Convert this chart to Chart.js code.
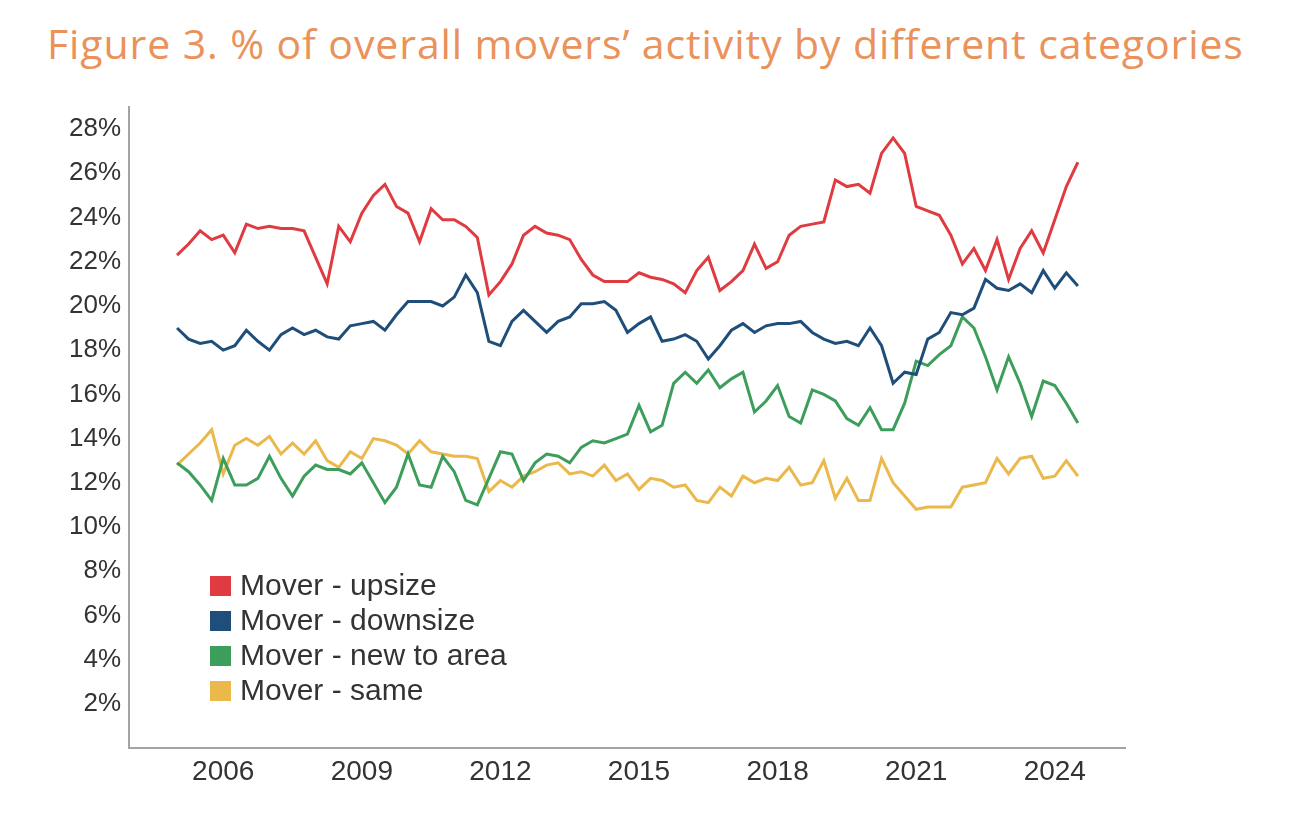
<!DOCTYPE html>
<html>
<head>
<meta charset="utf-8">
<script src="https://cdn.jsdelivr.net/npm/chart.js@4.4.1/dist/chart.umd.min.js"></script>
<style>
  html, body { margin: 0; padding: 0; background: #fff; }
  #wrap { position: relative; width: 1302px; height: 836px; }
  #title {
    position: absolute; left: 47px; top: 19px;
    font-family: "Open Sans", "Noto Sans", sans-serif;
    font-size: 41px; letter-spacing: 0.9px; color: #ea925a; white-space: nowrap;
    line-height: 1.2;
  }
  canvas { position: absolute; left: 0; top: 0; }
</style>
</head>
<body>
<div id="wrap">
  <div id="title">Figure 3. % of overall movers’ activity by different categories</div>
  <canvas id="myChart" width="1302" height="836"></canvas>
</div>
<script>
// quarterly, 2005 Q1 .. 2024 Q3
const START_YEAR = 2005;
const seriesNames = ['Mover - upsize', 'Mover - downsize', 'Mover - new to area', 'Mover - same'];
const seriesColors = ['#df3b41', '#1f4e7a', '#3d9e5b', '#ebb84b'];

const upsize = [22.3, 22.8, 23.4, 23.0, 23.2, 22.4, 23.7, 23.5, 23.6, 23.5,
  23.5, 23.4, 22.2, 21.0, 23.6, 22.9, 24.2, 25.0, 25.5, 24.5,
  24.2, 22.9, 24.4, 23.9, 23.9, 23.6, 23.1, 20.5, 21.1, 21.9,
  23.2, 23.6, 23.3, 23.2, 23.0, 22.1, 21.4, 21.1, 21.1, 21.1,
  21.5, 21.3, 21.2, 21.0, 20.6, 21.6, 22.2, 20.7, 21.1, 21.6,
  22.8, 21.7, 22.0, 23.2, 23.6, 23.7, 23.8, 25.7, 25.4, 25.5,
  25.1, 26.9, 27.6, 26.9, 24.5, 24.3, 24.1, 23.2, 21.9, 22.6,
  21.6, 23.0, 21.2, 22.6, 23.4, 22.4, 23.9, 25.4, 26.5];

const downsize = [19.0, 18.5, 18.3, 18.4, 18.0, 18.2, 18.9, 18.4, 18.0, 18.7,
  19.0, 18.7, 18.9, 18.6, 18.5, 19.1, 19.2, 19.3, 18.9, 19.6,
  20.2, 20.2, 20.2, 20.0, 20.4, 21.4, 20.6, 18.4, 18.2, 19.3,
  19.8, 19.3, 18.8, 19.3, 19.5, 20.1, 20.1, 20.2, 19.8, 18.8,
  19.2, 19.5, 18.4, 18.5, 18.7, 18.4, 17.6, 18.2, 18.9, 19.2,
  18.8, 19.1, 19.2, 19.2, 19.3, 18.8, 18.5, 18.3, 18.4, 18.2,
  19.0, 18.2, 16.5, 17.0, 16.9, 18.5, 18.8, 19.7, 19.6, 19.9,
  21.2, 20.8, 20.7, 21.0, 20.6, 21.6, 20.8, 21.5, 20.9];

const newToArea = [12.9, 12.5, 11.9, 11.2, 13.1, 11.9, 11.9, 12.2, 13.2, 12.2,
  11.4, 12.3, 12.8, 12.6, 12.6, 12.4, 12.9, 12.0, 11.1, 11.8,
  13.3, 11.9, 11.8, 13.2, 12.5, 11.2, 11.0, 12.2, 13.4, 13.3,
  12.1, 12.9, 13.3, 13.2, 12.9, 13.6, 13.9, 13.8, 14.0, 14.2,
  15.5, 14.3, 14.6, 16.5, 17.0, 16.5, 17.1, 16.3, 16.7, 17.0,
  15.2, 15.7, 16.4, 15.0, 14.7, 16.2, 16.0, 15.7, 14.9, 14.6,
  15.4, 14.4, 14.4, 15.6, 17.5, 17.3, 17.8, 18.2, 19.5, 19.0,
  17.7, 16.2, 17.7, 16.5, 15.0, 16.6, 16.4, 15.6, 14.7];

const same = [12.8, 13.3, 13.8, 14.4, 12.4, 13.7, 14.0, 13.7, 14.1, 13.3,
  13.8, 13.3, 13.9, 13.0, 12.7, 13.4, 13.1, 14.0, 13.9, 13.7,
  13.3, 13.9, 13.4, 13.3, 13.2, 13.2, 13.1, 11.6, 12.1, 11.8,
  12.3, 12.5, 12.8, 12.9, 12.4, 12.5, 12.3, 12.8, 12.1, 12.4,
  11.7, 12.2, 12.1, 11.8, 11.9, 11.2, 11.1, 11.8, 11.4, 12.3,
  12.0, 12.2, 12.1, 12.7, 11.9, 12.0, 13.0, 11.3, 12.2, 11.2,
  11.2, 13.1, 12.0, 11.4, 10.8, 10.9, 10.9, 10.9, 11.8, 11.9,
  12.0, 13.1, 12.4, 13.1, 13.2, 12.2, 12.3, 13.0, 12.3];

const xTicks = [2006, 2009, 2012, 2015, 2018, 2021, 2024];
const yTicks = [2, 4, 6, 8, 10, 12, 14, 16, 18, 20, 22, 24, 26, 28];

const allSeries = [upsize, downsize, newToArea, same];
const FONT = '"Liberation Sans", Arial, sans-serif';

// legend drawn inside the plot, lower left
const insideLegend = {
  id: 'insideLegend',
  afterDraw(chart) {
    const ctx = chart.ctx;
    const area = chart.chartArea;
    ctx.save();
    ctx.font = '30px ' + FONT;
    ctx.textBaseline = 'middle';
    ctx.textAlign = 'left';
    chart.data.datasets.forEach((ds, i) => {
      const y = area.top + 479 + i * 35;
      ctx.fillStyle = ds.borderColor;
      ctx.fillRect(area.left + 81, y - 10, 21, 20);
      ctx.fillStyle = '#333333';
      ctx.fillText(ds.label, area.left + 111, y + 1);
    });
    ctx.restore();
  }
};

const CHART = document.getElementById('myChart');
const myChart = new Chart(CHART, {
  type: 'line',
  data: {
    datasets: allSeries.map((vals, k) => ({
      label: seriesNames[k],
      data: vals.map((v, i) => ({ x: START_YEAR + i / 4, y: v })),
      borderColor: seriesColors[k],
      backgroundColor: seriesColors[k],
      borderWidth: 3,
      pointRadius: 0,
      tension: 0,
      fill: false
    }))
  },
  options: {
    responsive: false,
    animation: false,
    layout: { padding: { left: 0, top: 107, right: 177, bottom: 0 } },
    plugins: {
      legend: { display: false },
      tooltip: { enabled: false }
    },
    scales: {
      x: {
        type: 'linear',
        min: 2003.96,
        max: 2025.52,
        afterBuildTicks: (scale) => { scale.ticks = xTicks.map(v => ({ value: v })); },
        afterFit: (scale) => { scale.height = 88; },
        grid: { display: false, drawTicks: false },
        border: { display: true, color: '#a3a3a3', width: 2 },
        ticks: {
          autoSkip: false,
          maxRotation: 0,
          padding: 7,
          color: '#333333',
          font: { family: FONT, size: 28 },
          callback: (v) => String(v)
        }
      },
      y: {
        min: 0,
        max: 29,
        afterBuildTicks: (scale) => { scale.ticks = yTicks.map(v => ({ value: v })); },
        afterFit: (scale) => { scale.width = 129; },
        grid: { display: false, drawTicks: false },
        border: { display: true, color: '#a3a3a3', width: 2 },
        ticks: {
          padding: 8,
          color: '#333333',
          font: { family: FONT, size: 26 },
          callback: (v) => v + '%'
        }
      }
    }
  },
  plugins: [insideLegend]
});
</script>
</body>
</html>
